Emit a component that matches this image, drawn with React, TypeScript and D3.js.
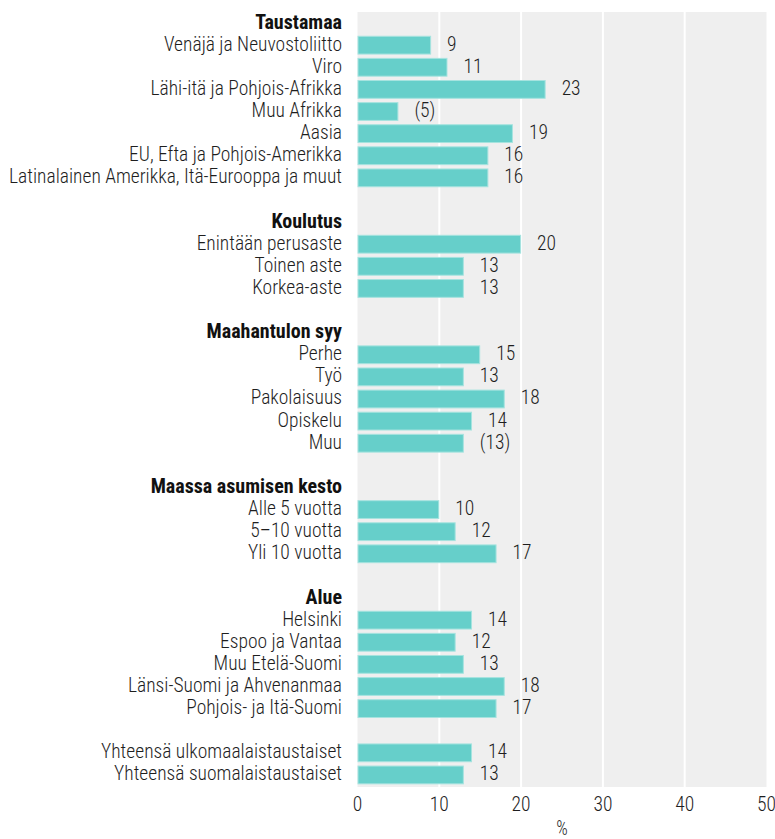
import React, { useRef, useEffect } from 'react'
import * as d3 from 'd3'

// group titles and their items
const groupTitles = ['Taustamaa', 'Koulutus', 'Maahantulon syy', 'Maassa asumisen kesto', 'Alue', '']

const taustamaaLabels = [
  'Venäjä ja Neuvostoliitto',
  'Viro',
  'Lähi-itä ja Pohjois-Afrikka',
  'Muu Afrikka',
  'Aasia',
  'EU, Efta ja Pohjois-Amerikka',
  'Latinalainen Amerikka, Itä-Eurooppa ja muut'
]
const taustamaaValues = [9, 11, 23, 5, 19, 16, 16]

const koulutusLabels = ['Enintään perusaste', 'Toinen aste', 'Korkea-aste']
const koulutusValues = [20, 13, 13]

const syyLabels = ['Perhe', 'Työ', 'Pakolaisuus', 'Opiskelu', 'Muu']
const syyValues = [15, 13, 18, 14, 13]

const kestoLabels = ['Alle 5 vuotta', '5–10 vuotta', 'Yli 10 vuotta']
const kestoValues = [10, 12, 17]

const alueLabels = ['Helsinki', 'Espoo ja Vantaa', 'Muu Etelä-Suomi', 'Länsi-Suomi ja Ahvenanmaa', 'Pohjois- ja Itä-Suomi']
const alueValues = [14, 12, 13, 18, 17]

const totalLabels = ['Yhteensä ulkomaalaistaustaiset', 'Yhteensä suomalaistaustaiset']
const totalValues = [14, 13]

// values shown in brackets (small sample)
const uncertain = ['Muu Afrikka', 'Muu']

const xTicks = [0, 10, 20, 30, 40, 50]

const groupLabels = [taustamaaLabels, koulutusLabels, syyLabels, kestoLabels, alueLabels, totalLabels]
const groupValues = [taustamaaValues, koulutusValues, syyValues, kestoValues, alueValues, totalValues]

type Row = { id: string, label: string, value: number | null, header: boolean }

const App = () => {
  const container = useRef<SVGSVGElement>(null)

  const width = 775
  const height = 839
  const labelRight = 342
  const font = "'Liberation Sans Narrow', 'Roboto Condensed', 'Arial Narrow', 'Liberation Sans', Roboto, sans-serif"

  useEffect(() => {
    const rows: Row[] = []
    groupTitles.forEach((title, gi) => {
      if (gi > 0) rows.push({ id: `blank${gi}`, label: '', value: null, header: false })
      if (title) rows.push({ id: `h${gi}`, label: title, value: null, header: true })
      groupLabels[gi].forEach((label, i) => {
        rows.push({ id: `r${gi}_${i}`, label, value: groupValues[gi][i], header: false })
      })
    })

    const svg = d3.select(container.current)
    svg.selectAll('*').remove()

    const x = d3.scaleLinear().domain([0, 50]).range([357.5, 766.5])
    const y = d3.scaleBand<string>()
      .domain(rows.map(r => r.id))
      .range([12, 786])
      .paddingInner(0.15)
      .paddingOuter(0.075)

    // panel
    svg.append('rect')
      .attr('x', x(0))
      .attr('y', 12)
      .attr('width', x(50) - x(0))
      .attr('height', 787 - 12)
      .attr('fill', '#efefef')

    svg.append('g')
      .selectAll('line')
      .data(xTicks.slice(1, -1))
      .enter()
      .append('line')
        .attr('x1', d => x(d))
        .attr('x2', d => x(d))
        .attr('y1', 12)
        .attr('y2', 787)
        .attr('stroke', '#ffffff')
        .attr('stroke-width', 2)

    const dataRows = rows.filter(r => r.value !== null)

    svg.append('g')
      .selectAll('rect')
      .data(dataRows)
      .enter()
      .append('rect')
        .attr('x', x(0) + 0.5)
        .attr('y', d => y(d.id)! + 0.5)
        .attr('width', d => x(d.value!) - x(0) - 1)
        .attr('height', y.bandwidth() - 1)
        .attr('fill', '#66cfca')
        .attr('stroke', '#a6e3df')
        .attr('stroke-width', 1)

    const textRows = rows.filter(r => r.label)

    const labels = svg.append('g')
      .selectAll('text')
      .data(textRows)
      .enter()
      .append('text')
        .attr('x', labelRight)
        .attr('y', d => y(d.id)! + y.bandwidth() / 2 + 5.5)
        .attr('text-anchor', 'end')
        .style('font-family', font)
        .style('font-size', '20px')
        .style('font-weight', d => d.header ? 700 : 300)
        .style('fill', d => d.header ? '#111' : '#1e1e1e')
        .text(d => d.label)

    const values = svg.append('g')
      .selectAll('text')
      .data(dataRows)
      .enter()
      .append('text')
        .attr('x', d => x(d.value!) + 16)
        .attr('y', d => y(d.id)! + y.bandwidth() / 2 + 5.5)
        .style('font-family', font)
        .style('font-size', '20px')
        .style('font-weight', 300)
        .style('fill', '#1e1e1e')
        .text(d => uncertain.includes(d.label) ? `(${d.value})` : `${d.value}`)

    const ticks = svg.append('g')
      .selectAll('text')
      .data(xTicks)
      .enter()
      .append('text')
        .attr('x', d => x(d))
        .attr('y', 811)
        .attr('text-anchor', 'middle')
        .style('font-family', font)
        .style('font-size', '20px')
        .style('font-weight', 300)
        .style('fill', '#1e1e1e')
        .text(d => d)

    const unit = svg.append('text')
      .attr('x', (x(0) + x(50)) / 2)
      .attr('y', 835)
      .attr('text-anchor', 'middle')
      .style('font-family', font)
      .style('font-size', '20px')
      .style('font-weight', 300)
      .style('fill', '#1e1e1e')
      .text('%')

    // squeeze text horizontally if the narrow face is missing
    const widthOf = (sel: d3.Selection<SVGTextElement, any, any, any>, test: (d: any) => boolean) => {
      let w = 0
      sel.each(function (d) { if (test(d)) w = (this as SVGTextElement).getComputedTextLength() })
      return w
    }
    const kLabel = Math.min(1, 333 / (widthOf(labels, d => d.label === taustamaaLabels[6]) || 333))
    const kHead = Math.min(1, 196 / (widthOf(labels, d => d.label === groupTitles[3]) || 196))
    const kNum = Math.min(1, 19 / (widthOf(ticks, d => d === 20) || 19))

    const squeeze = (sel: d3.Selection<any, any, any, any>, k: (d: any) => number) => {
      sel.attr('transform', function (d) {
        const x0 = +d3.select(this).attr('x')
        const kk = k(d)
        return `translate(${x0},0) scale(${kk},1) translate(${-x0},0)`
      })
    }
    squeeze(labels, d => d.header ? kHead : kLabel)
    squeeze(values, () => kNum)
    squeeze(ticks, () => kNum)
    squeeze(unit, () => 0.9)
  }, [])

  return (
    <svg
      ref={container}
      width={width}
      height={height}
      style={{ position: 'absolute', left: 0, top: 0, background: '#fff' }}
    />
  )
}

export default App
